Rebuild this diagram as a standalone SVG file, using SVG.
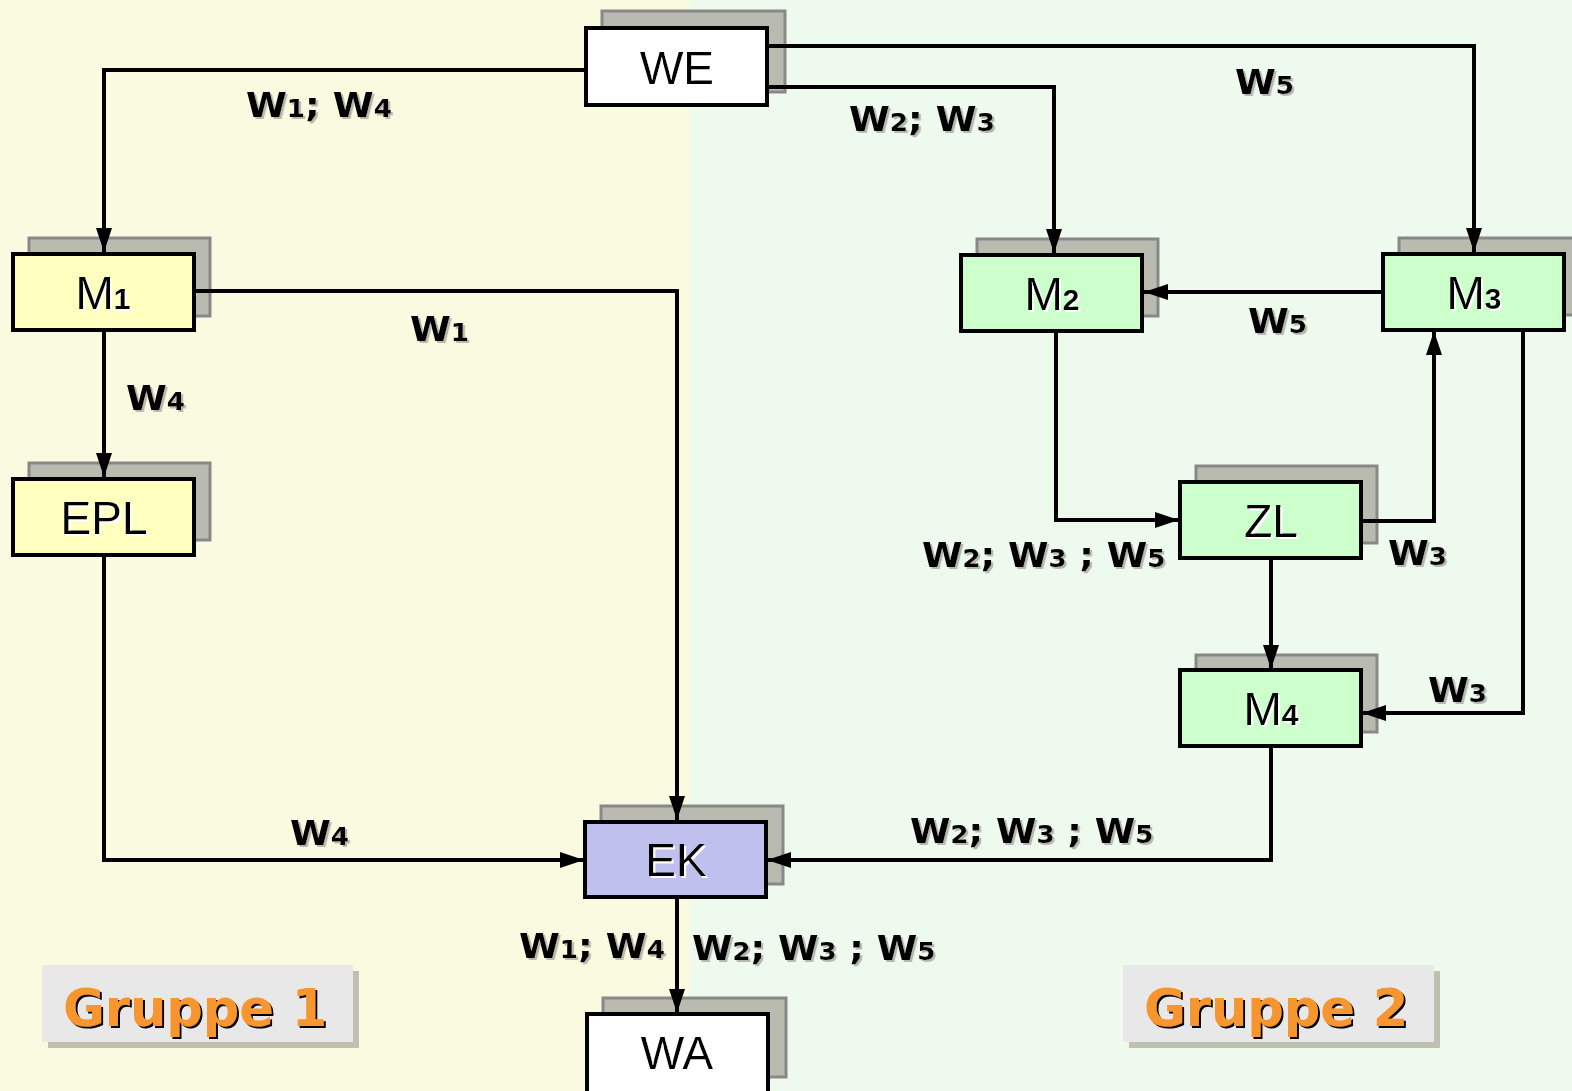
<svg xmlns="http://www.w3.org/2000/svg" width="1572" height="1091" viewBox="0 0 1572 1091">
<defs>
<style>
.shadow{fill:#b9bbb1;stroke:#888;stroke-width:3}
.box{stroke:#000;stroke-width:4}
.nl{font-family:"Liberation Sans",Arial,sans-serif;font-size:46px;fill:#000;text-anchor:middle;filter:url(#ws)}
.nl .s{font-size:30px;font-weight:bold}
.el{font-family:"DejaVu Sans",Verdana,sans-serif;font-weight:bold;font-size:34px;fill:#000;filter:url(#gs)}
.el .s{font-size:24px}
.con{fill:none;stroke:#000;stroke-width:4}
.grp{font-family:"DejaVu Sans",Verdana,sans-serif;font-weight:bold;font-size:51px;fill:#f7962f;filter:url(#ds)}
</style>
<filter id="ws" x="-10%" y="-10%" width="130%" height="130%"><feDropShadow dx="2" dy="2" stdDeviation="0" flood-color="#fff"/></filter>
<filter id="gs" x="-10%" y="-10%" width="130%" height="130%"><feDropShadow dx="2" dy="2" stdDeviation="0.6" flood-color="#a8a8a0" flood-opacity="0.8"/></filter>
<filter id="ds" x="-10%" y="-10%" width="130%" height="130%"><feDropShadow dx="2" dy="2" stdDeviation="0" flood-color="#000"/></filter>
<marker id="ah" markerUnits="userSpaceOnUse" markerWidth="26" markerHeight="18" refX="24" refY="8" orient="auto"><path d="M0,0 L24,8 L0,16 Z" fill="#000"/></marker>
</defs>
<rect x="0" y="0" width="690" height="1091" fill="#fafae1"/>
<rect x="690" y="0" width="882" height="1091" fill="#eefaee"/>

<g id="WE">
<rect class="shadow" x="602" y="11" width="183" height="81"/>
<rect class="box" x="586" y="28" width="181" height="77" fill="#fff"/>
<text class="nl" x="677" y="84">WE</text>
</g>
<g id="M1">
<rect class="shadow" x="29" y="238" width="181" height="78"/>
<rect class="box" x="13" y="254" width="181" height="76" fill="#ffffc0"/>
<text class="nl" x="103" y="309">M<tspan class="s">1</tspan></text>
</g>
<g id="EPL">
<rect class="shadow" x="29" y="463" width="181" height="77"/>
<rect class="box" x="13" y="479" width="181" height="76" fill="#ffffc0"/>
<text class="nl" x="104" y="534">EPL</text>
</g>
<g id="M2">
<rect class="shadow" x="977" y="239" width="181" height="77"/>
<rect class="box" x="961" y="255" width="181" height="76" fill="#ccffcc"/>
<text class="nl" x="1052" y="310">M<tspan class="s">2</tspan></text>
</g>
<g id="M3">
<rect class="shadow" x="1399" y="238" width="181" height="77"/>
<rect class="box" x="1383" y="254" width="181" height="76" fill="#ccffcc"/>
<text class="nl" x="1474" y="309">M<tspan class="s">3</tspan></text>
</g>
<g id="ZL">
<rect class="shadow" x="1196" y="466" width="181" height="77"/>
<rect class="box" x="1180" y="482" width="181" height="76" fill="#ccffcc"/>
<text class="nl" x="1271" y="537">ZL</text>
</g>
<g id="M4">
<rect class="shadow" x="1196" y="655" width="181" height="77"/>
<rect class="box" x="1180" y="670" width="181" height="76" fill="#ccffcc"/>
<text class="nl" x="1271" y="725">M<tspan class="s">4</tspan></text>
</g>
<g id="EK">
<rect class="shadow" x="601" y="806" width="182" height="78"/>
<rect class="box" x="585" y="822" width="181" height="75" fill="#bfc0ee"/>
<text class="nl" x="676" y="876">EK</text>
</g>
<g id="WA">
<rect class="shadow" x="603" y="998" width="183" height="79"/>
<rect class="box" x="587" y="1014" width="181" height="80" fill="#fff"/>
<text class="nl" x="677" y="1069">WA</text>
</g>

<g id="connectors">
<polyline class="con" points="586,70 104,70 104,252" marker-end="url(#ah)"/>
<polyline class="con" points="767,46 1474,46 1474,252" marker-end="url(#ah)"/>
<polyline class="con" points="767,87 1054,87 1054,253" marker-end="url(#ah)"/>
<polyline class="con" points="194,291 677,291 677,820" marker-end="url(#ah)"/>
<polyline class="con" points="104,330 104,477" marker-end="url(#ah)"/>
<polyline class="con" points="104,555 104,860 584,860" marker-end="url(#ah)"/>
<polyline class="con" points="1383,292 1144,292" marker-end="url(#ah)"/>
<polyline class="con" points="1056,331 1056,520 1179,520" marker-end="url(#ah)"/>
<polyline class="con" points="1361,521 1434,521 1434,331" marker-end="url(#ah)"/>
<polyline class="con" points="1523,330 1523,713 1362,713" marker-end="url(#ah)"/>
<polyline class="con" points="1271,558 1271,669" marker-end="url(#ah)"/>
<polyline class="con" points="1271,746 1271,860 767,860" marker-end="url(#ah)"/>
<polyline class="con" points="677,897 677,1013" marker-end="url(#ah)"/>
</g>

<g id="labels">
<text class="el" transform="translate(246,117) scale(1.09,1)">W<tspan class="s">1</tspan>; W<tspan class="s">4</tspan></text>
<text class="el" transform="translate(849,131) scale(1.09,1)">W<tspan class="s">2</tspan>; W<tspan class="s">3</tspan></text>
<text class="el" transform="translate(1235,94) scale(1.09,1)">W<tspan class="s">5</tspan></text>
<text class="el" transform="translate(410,341) scale(1.09,1)">W<tspan class="s">1</tspan></text>
<text class="el" transform="translate(126,410) scale(1.09,1)">W<tspan class="s">4</tspan></text>
<text class="el" transform="translate(1248,333) scale(1.09,1)">W<tspan class="s">5</tspan></text>
<text class="el" transform="translate(922,567) scale(1.08,1)">W<tspan class="s">2</tspan>; W<tspan class="s">3</tspan> ; W<tspan class="s">5</tspan></text>
<text class="el" transform="translate(1388,565) scale(1.09,1)">W<tspan class="s">3</tspan></text>
<text class="el" transform="translate(1428,702) scale(1.09,1)">W<tspan class="s">3</tspan></text>
<text class="el" transform="translate(290,845) scale(1.09,1)">W<tspan class="s">4</tspan></text>
<text class="el" transform="translate(910,843) scale(1.08,1)">W<tspan class="s">2</tspan>; W<tspan class="s">3</tspan> ; W<tspan class="s">5</tspan></text>
<text class="el" transform="translate(519,958) scale(1.09,1)">W<tspan class="s">1</tspan>; W<tspan class="s">4</tspan></text>
<text class="el" transform="translate(692,960) scale(1.08,1)">W<tspan class="s">2</tspan>; W<tspan class="s">3</tspan> ; W<tspan class="s">5</tspan></text>
</g>

<g id="gruppe1">
<rect x="48" y="971" width="311" height="77" fill="#c0c0b0"/>
<rect x="42" y="965" width="311" height="77" fill="#e8e8e8"/>
<text class="grp" x="63" y="1026">Gruppe 1</text>
</g>
<g id="gruppe2">
<rect x="1129" y="971" width="311" height="77" fill="#c0c0b0"/>
<rect x="1123" y="965" width="311" height="77" fill="#e8e8e8"/>
<text class="grp" x="1144" y="1026">Gruppe 2</text>
</g>
</svg>
